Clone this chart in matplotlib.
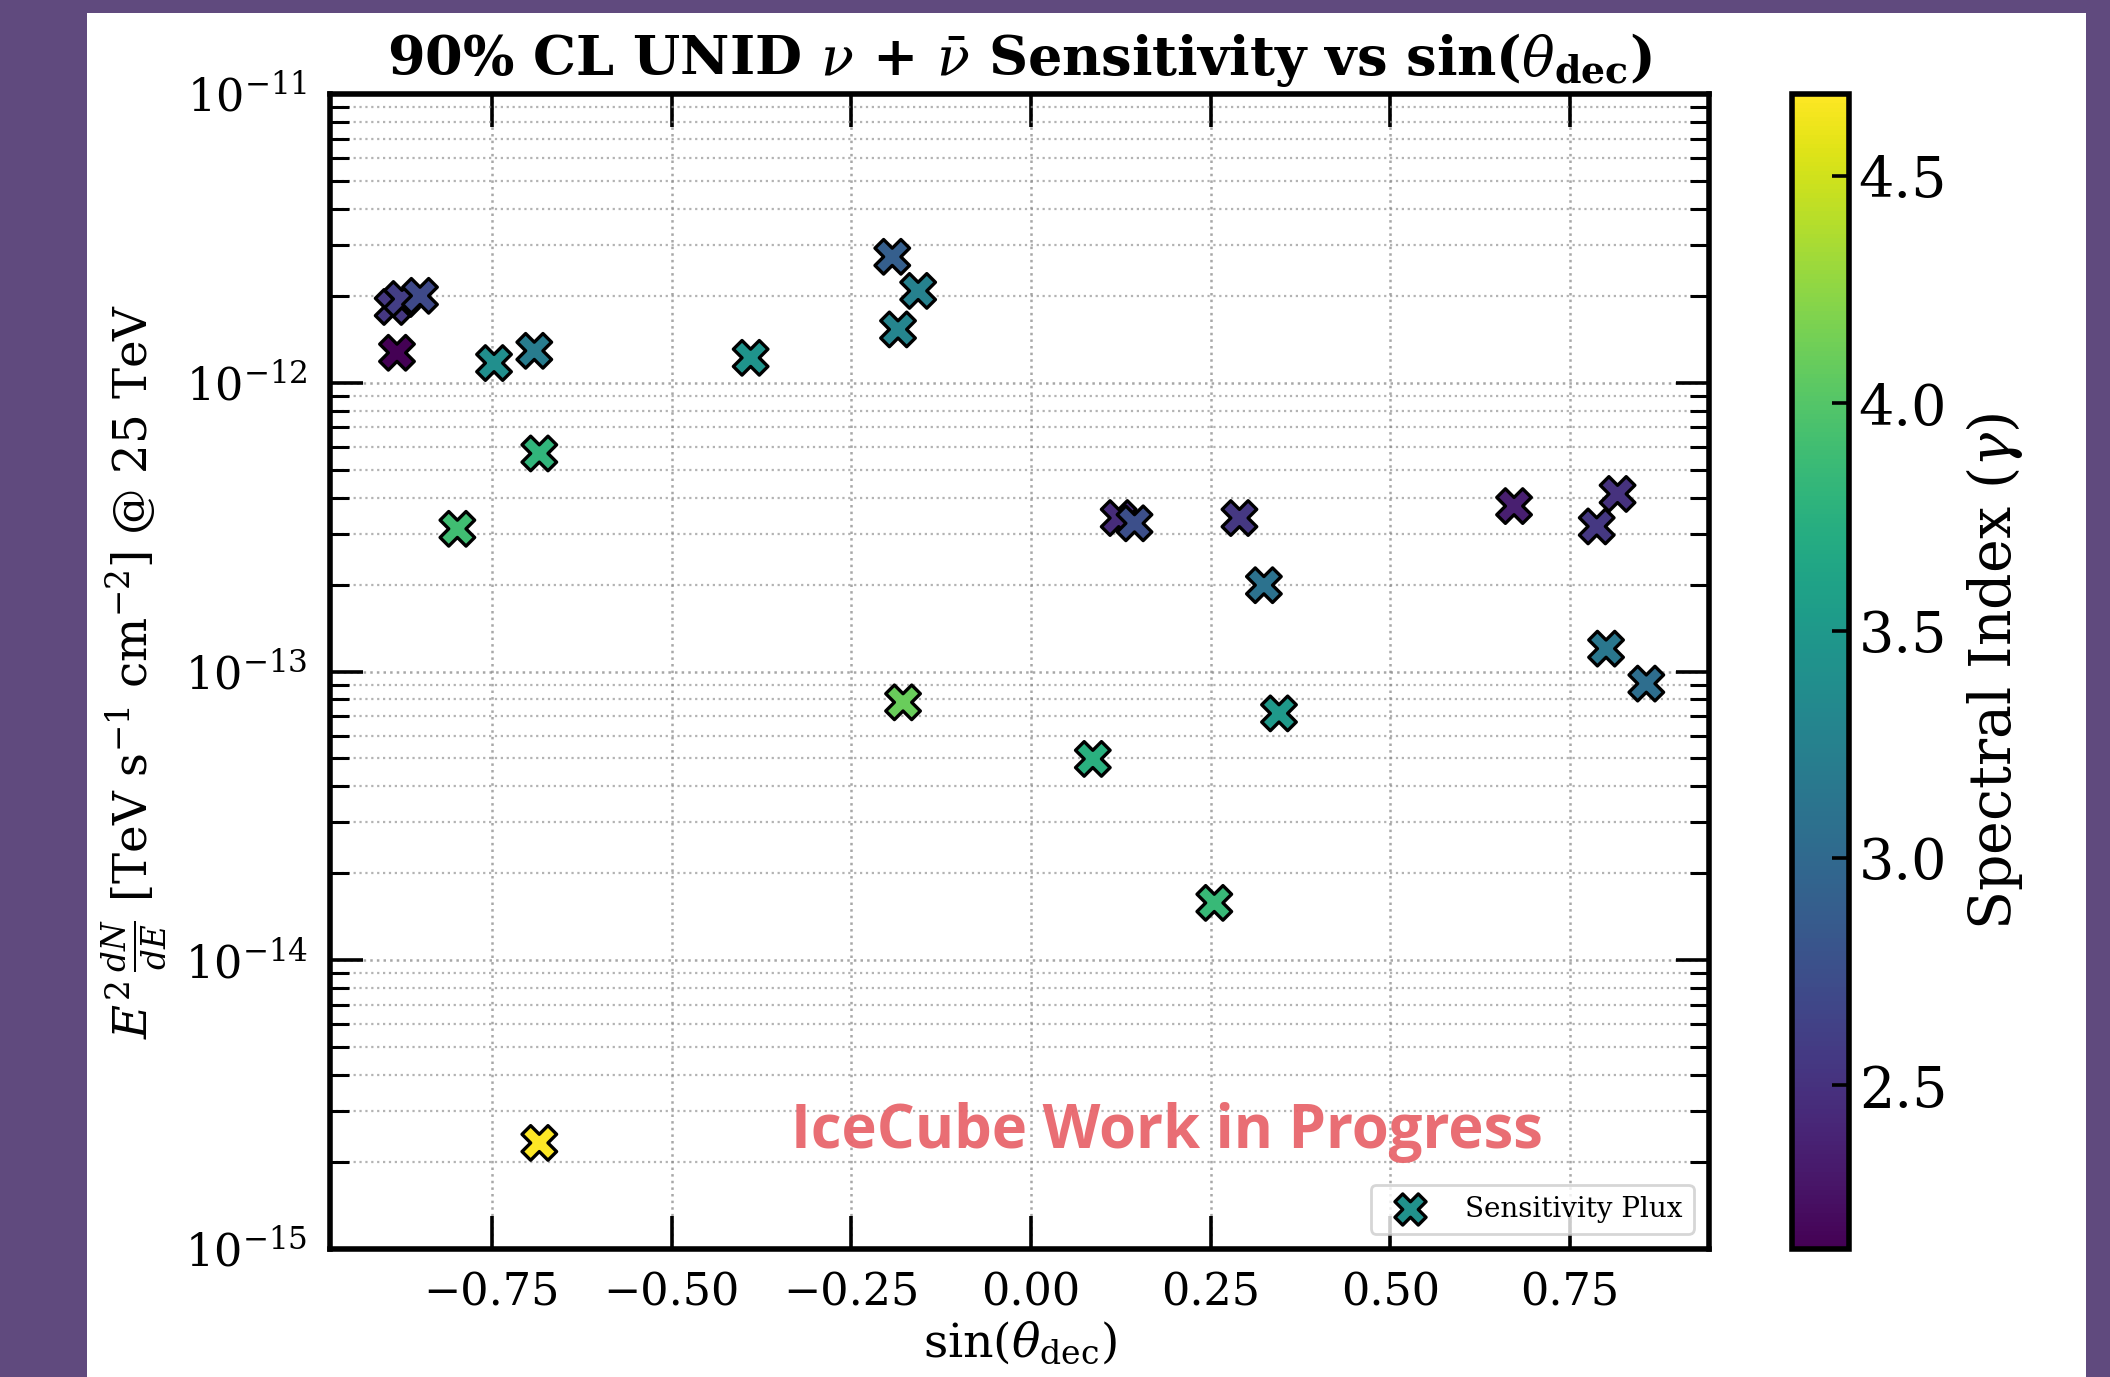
import numpy as np
import matplotlib
matplotlib.use("Agg")
import matplotlib.pyplot as plt
from matplotlib.patches import Rectangle
from matplotlib.ticker import LogLocator, NullLocator, NullFormatter, FixedLocator

plt.rcParams['font.family'] = ['DejaVu Serif']
plt.rcParams['mathtext.fontset'] = 'dejavuserif'

# ---- data ----
sin_dec = [-0.888, -0.875, -0.850, -0.882, -0.747, -0.691, -0.684, -0.798, -0.684,
           -0.390, -0.193, -0.157, -0.185, -0.178,
           0.122, 0.144, 0.086, 0.255, 0.290, 0.324, 0.345,
           0.672, 0.787, 0.816, 0.800, 0.856]
flux = [1.83e-12, 1.95e-12, 2.00e-12, 1.27e-12, 1.17e-12, 1.29e-12, 5.69e-13, 3.12e-13, 2.33e-15,
        1.22e-12, 2.73e-12, 2.08e-12, 1.53e-12, 7.82e-14,
        3.40e-13, 3.26e-13, 4.98e-14, 1.58e-14, 3.40e-13, 1.99e-13, 7.16e-14,
        3.74e-13, 3.18e-13, 4.12e-13, 1.20e-13, 9.08e-14]
gamma = [2.55, 2.60, 2.70, 2.14, 3.40, 3.20, 3.80, 3.90, 4.68,
         3.45, 2.90, 3.25, 3.30, 4.10,
         2.45, 2.75, 3.75, 3.85, 2.55, 3.10, 3.50,
         2.35, 2.55, 2.50, 3.15, 3.05]
y_limits = (1e-15, 1e-11)
y_ticks = [1e-15, 1e-14, 1e-13, 1e-12, 1e-11]
x_ticks = [-0.75, -0.50, -0.25, 0.00, 0.25, 0.50, 0.75]
cbar_ticks = [2.5, 3.0, 3.5, 4.0, 4.5]

W, H, DPI = 2110, 1377, 200
fig = plt.figure(figsize=(W / DPI, H / DPI), dpi=DPI)
fig.patch.set_facecolor('#604a7e')
fig.patches.append(Rectangle((87 / W, 0), (2086 - 87) / W, 1 - 13 / H,
                             transform=fig.transFigure, facecolor='white',
                             edgecolor='none', zorder=-10))

ax_l, ax_r, ax_t, ax_b = 330, 1709, 94, 1249
ax = fig.add_axes([ax_l / W, 1 - ax_b / H, (ax_r - ax_l) / W, (ax_b - ax_t) / H])
cax = fig.add_axes([1792 / W, 1 - ax_b / H, 57 / W, (ax_b - ax_t) / H])

sc = ax.scatter(sin_dec, flux, c=gamma, cmap='viridis', marker='X', s=155,
                edgecolors='black', linewidths=1.2, zorder=3, label='Sensitivity Plux')
ax.set_yscale('log')
ax.set_ylim(*y_limits)
ax.set_xticks(x_ticks)
ax.xaxis.set_minor_locator(NullLocator())
ax.yaxis.set_major_locator(FixedLocator(y_ticks))
ax.yaxis.set_minor_locator(LogLocator(base=10, subs=np.arange(2, 10), numticks=20))
ax.yaxis.set_minor_formatter(NullFormatter())

ax.grid(which='major', linestyle=':', color='#8a8a8a', linewidth=0.9, alpha=0.75)
ax.grid(which='minor', axis='y', linestyle=':', color='#8a8a8a', linewidth=0.8, alpha=0.65)
ax.set_axisbelow(True)

ax.tick_params(which='major', direction='in', length=12, width=1.3, top=True, right=True,
               labelsize=16, pad=8)
ax.tick_params(which='minor', direction='in', length=7, width=1.1, top=True, right=True)
for sp in ax.spines.values():
    sp.set_linewidth(2.0)

ax.set_title(r'90% CL UNID $\nu$ + $\bar{\nu}$ Sensitivity vs sin($\theta_{\mathbf{dec}}$)',
             fontsize=19.5, fontweight='bold', pad=7)
ax.set_xlabel(r'sin($\theta_{\rm dec}$)', fontsize=17, labelpad=2)
ax.set_ylabel(r'$E^2\,\frac{dN}{dE}$ [TeV s$^{-1}$ cm$^{-2}$] @ 25 TeV', fontsize=16.8, labelpad=6)

ax.text(0.607, 0.101, 'IceCube Work in Progress', transform=ax.transAxes,
        ha='center', va='center', fontsize=21.5, fontweight='bold', family='Open Sans',
        color='#e8666c', alpha=0.95, zorder=2)

leg = ax.legend(loc='lower right', fontsize=10, frameon=True, borderaxespad=0.55,
                markerscale=0.9, handletextpad=1.0)
for h in leg.legend_handles:
    h.set_array(None)
    h.set_facecolor(plt.get_cmap('viridis')(0.5))
    h.set_edgecolor('black')

cb = fig.colorbar(sc, cax=cax)
cb.set_ticks(cbar_ticks)
cb.ax.tick_params(labelsize=20, direction='in', length=6, width=1.3)
cb.outline.set_linewidth(2.0)
cb.set_label(r'Spectral Index ($\gamma$)', fontsize=20.5, labelpad=6)

fig.savefig('out.png', dpi=DPI, facecolor=fig.get_facecolor())
